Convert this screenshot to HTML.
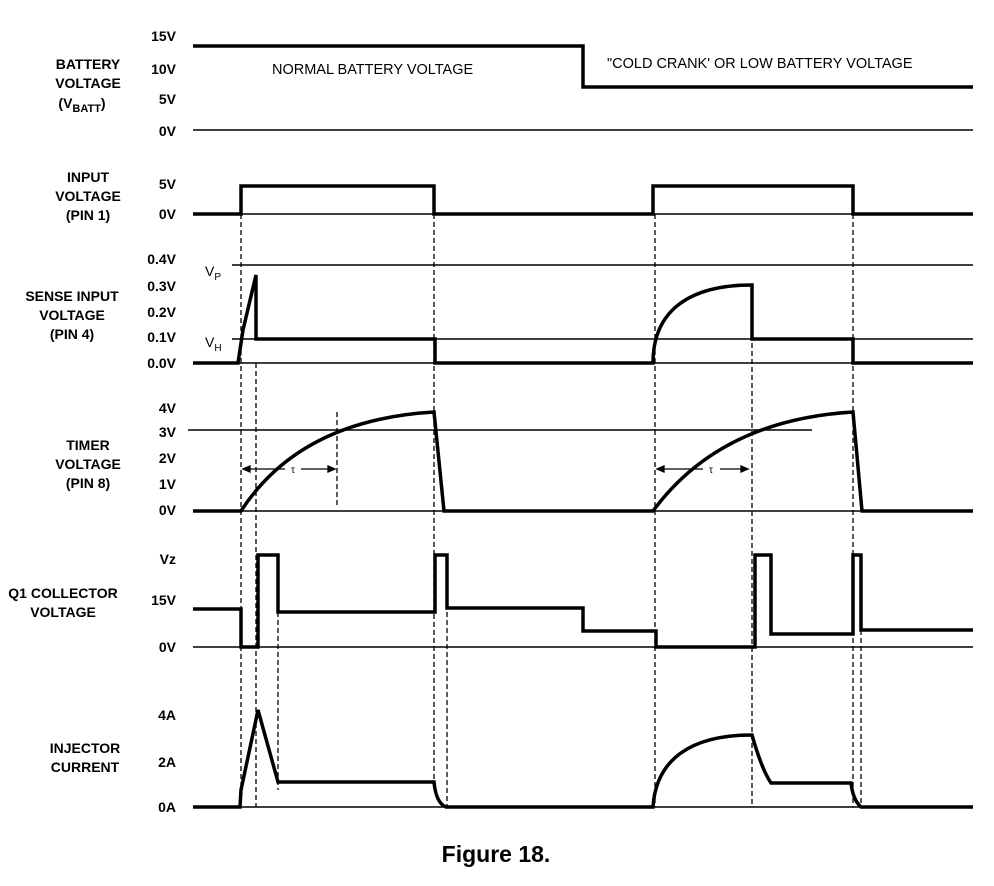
<!DOCTYPE html>
<html><head><meta charset="utf-8"><style>
html,body{margin:0;padding:0;background:#fff;}
svg{display:block;}
text{font-family:"Liberation Sans",Arial,sans-serif;fill:#000;}
.b{font-weight:bold;font-size:14px;}
.l{font-weight:bold;font-size:14px;text-anchor:middle;}
.t{stroke:#000;stroke-width:1.5;fill:none;}
.k{stroke:#000;stroke-width:3.5;fill:none;stroke-linejoin:miter;}
.d{stroke:#000;stroke-width:1.3;stroke-dasharray:5,3;fill:none;}
</style></head><body>
<svg width="994" height="886" viewBox="0 0 994 886" xmlns="http://www.w3.org/2000/svg">
<g class="b" text-anchor="end">
<text x="176" y="41">15V</text><text x="176" y="74">10V</text><text x="176" y="104">5V</text><text x="176" y="136">0V</text>
<text x="176" y="189">5V</text><text x="176" y="219">0V</text>
<text x="176" y="264">0.4V</text><text x="176" y="291">0.3V</text><text x="176" y="317">0.2V</text><text x="176" y="342">0.1V</text><text x="176" y="368">0.0V</text>
<text x="176" y="413">4V</text><text x="176" y="437">3V</text><text x="176" y="463">2V</text><text x="176" y="489">1V</text><text x="176" y="515">0V</text>
<text x="176" y="564">Vz</text><text x="176" y="605">15V</text><text x="176" y="652">0V</text>
<text x="176" y="720">4A</text><text x="176" y="767">2A</text><text x="176" y="812">0A</text>
</g>
<g class="l">
<text x="88" y="69">BATTERY</text><text x="88" y="88">VOLTAGE</text><text x="82" y="108">(V<tspan font-size="11" dy="4">BATT</tspan><tspan dy="-4">)</tspan></text>
<text x="88" y="182">INPUT</text><text x="88" y="201">VOLTAGE</text><text x="88" y="220">(PIN 1)</text>
<text x="72" y="301">SENSE INPUT</text><text x="72" y="320">VOLTAGE</text><text x="72" y="339">(PIN 4)</text>
<text x="88" y="450">TIMER</text><text x="88" y="469">VOLTAGE</text><text x="88" y="488">(PIN 8)</text>
<text x="63" y="598">Q1 COLLECTOR</text><text x="63" y="617">VOLTAGE</text>
<text x="85" y="753">INJECTOR</text><text x="85" y="772">CURRENT</text>
</g>
<text x="272" y="74" font-size="14.5">NORMAL BATTERY VOLTAGE</text>
<text x="607" y="68" font-size="14.5">"COLD CRANK' OR LOW BATTERY VOLTAGE</text>
<text x="496" y="862" font-size="23" font-weight="bold" text-anchor="middle">Figure 18.</text>
<text x="205" y="276" font-size="14">V<tspan font-size="10" dy="4">P</tspan></text>
<text x="205" y="347" font-size="14">V<tspan font-size="10" dy="4">H</tspan></text>

<path class="t" d="M193 130H973 M193 214H973 M232 265H973 M232 339H973 M193 363H973 M188 430H812 M193 511H973 M193 647H973 M193 807H973"/>

<path class="k" d="M193 46H583V87H973"/>
<path class="k" d="M193 214H241V186H434V214H653V186H853V214H973"/>
<path class="k" d="M193 363H238L243 330L256 275V339H435V363H653C653 310 690 285 752 285V339H853V363H973"/>
<path class="k" d="M193 511H241Q300 420 434 412L444 511H653Q720 420 853 412L862 511H973"/>
<path class="d" d="M337 412V505"/>
<g stroke="#000" stroke-width="1.3" fill="#000">
<path d="M248 469H285M301 469H330" fill="none"/><path d="M243 469l7-3v6z M335 469l-7-3v6z"/>
<path d="M662 469H703M720 469H743" fill="none"/><path d="M657 469l7-3v6z M748 469l-7-3v6z"/>
</g>
<text x="293" y="473" font-size="10" text-anchor="middle">τ</text>
<text x="711" y="473" font-size="10" text-anchor="middle">τ</text>
<path class="k" d="M193 609H241V647H258V555H278V612H435V555H447V608H583V631H656V647H755V555H771V634H853V555H861V630H973"/>
<path class="k" d="M193 807H240L241 790L258 710L278 782H434Q436 803 446 807H653C656 760 690 735 752 735Q762 770 771 783H851Q853 800 861 807H973"/>
<path class="d" d="M241 214V807 M256 363V807 M278 612V790 M434 214V790 M447 612V807 M655 214V807 M752 287V807 M853 214V807 M861 630V807"/>
</svg>
</body></html>
